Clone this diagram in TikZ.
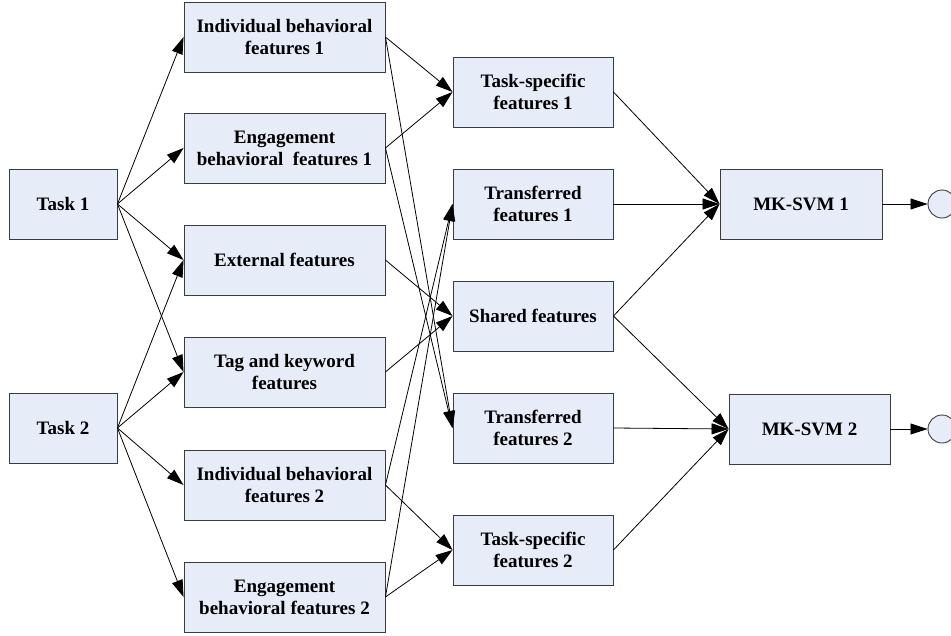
\documentclass[tikz,border=0pt]{standalone}
\usepackage{fontspec}
\setmainfont{Liberation Serif}
\usetikzlibrary{arrows.meta}
\definecolor{boxfill}{RGB}{230,236,248}
\definecolor{boxline}{RGB}{60,60,60}

\begin{document}
\begin{tikzpicture}[x=1pt,y=-1pt,
    featbox/.style={draw=boxline, fill=boxfill, line width=0.9pt, minimum height=70pt,
        inner sep=0pt, align=center, font=\fontsize{19}{22}\selectfont\bfseries},
    arr/.style={-{Triangle[length=17pt,width=11pt]}, line width=0.8pt}]
    \useasboundingbox (0,0) rectangle (951,635);

    % the tasks
    \node[featbox, minimum width=108pt] (t1) at (63,204) {Task 1};
    \node[featbox, minimum width=108pt] (t2) at (63,428) {Task 2};

    % the feature boxes (here I just create nodes to use them later on for the arrows)
    \node[featbox, minimum width=201pt] (ib1) at (284.5,37) {Individual behavioral\\features 1};
    \node[featbox, minimum width=201pt] (eb1) at (284.5,148) {Engagement\\behavioral\enspace features 1};
    \node[featbox, minimum width=201pt] (ext) at (284.5,260) {External features};
    \node[featbox, minimum width=201pt] (tag) at (284.5,372) {Tag and keyword\\features};
    \node[featbox, minimum width=201pt] (ib2) at (284.5,485) {Individual behavioral\\features 2};
    \node[featbox, minimum width=201pt] (eb2) at (284.5,597) {Engagement\\behavioral features 2};

    % the combined features
    \node[featbox, minimum width=160pt] (ts1) at (533,92) {Task-specific\\features 1};
    \node[featbox, minimum width=160pt] (tr1) at (533,204) {Transferred\\features 1};
    \node[featbox, minimum width=160pt] (sh) at (533,316) {Shared features};
    \node[featbox, minimum width=160pt] (tr2) at (533,428) {Transferred\\features 2};
    \node[featbox, minimum width=160pt] (ts2) at (533,550) {Task-specific\\features 2};

    % the classifiers and outputs
    \node[featbox, minimum width=162pt] (mk1) at (801,204) {MK-SVM 1};
    \node[featbox, minimum width=161pt] (mk2) at (809.5,429) {MK-SVM 2};
    \node[draw=boxline, fill=boxfill, line width=0.9pt, circle, minimum size=28pt, inner sep=0pt] (o1) at (942,204) {};
    \node[draw=boxline, fill=boxfill, line width=0.9pt, circle, minimum size=28pt, inner sep=0pt] (o2) at (942,429) {};

    % draw the arrows
    \draw[arr] (t1.east) -- (ib1.west);
    \draw[arr] (t1.east) -- (eb1.west);
    \draw[arr] (t1.east) -- (ext.west);
    \draw[arr] (t1.east) -- (tag.west);
    \draw[arr] (t2.east) -- (ext.west);
    \draw[arr] (t2.east) -- (tag.west);
    \draw[arr] (t2.east) -- (ib2.west);
    \draw[arr] (t2.east) -- (eb2.west);

    \draw[arr] (ib1.east) -- (ts1.west);
    \draw[arr] (eb1.east) -- (ts1.west);
    \draw[arr] (ib1.east) -- (tr2.west);
    \draw[arr] (eb1.east) -- (tr2.west);
    \draw[arr] (ext.east) -- (sh.west);
    \draw[arr] (tag.east) -- (sh.west);
    \draw[arr] (ib2.east) -- (tr1.west);
    \draw[arr] (eb2.east) -- (tr1.west);
    \draw[arr] (ib2.east) -- (ts2.west);
    \draw[arr] (eb2.east) -- (ts2.west);

    \draw[arr] (ts1.east) -- (mk1.west);
    \draw[arr] (tr1.east) -- (mk1.west);
    \draw[arr] (sh.east) -- (mk1.west);
    \draw[arr] (sh.east) -- (mk2.west);
    \draw[arr] (tr2.east) -- (mk2.west);
    \draw[arr] (ts2.east) -- (mk2.west);

    \draw[arr] (mk1.east) -- (o1.west);
    \draw[arr] (mk2.east) -- (o2.west);

\end{tikzpicture}
\end{document}
